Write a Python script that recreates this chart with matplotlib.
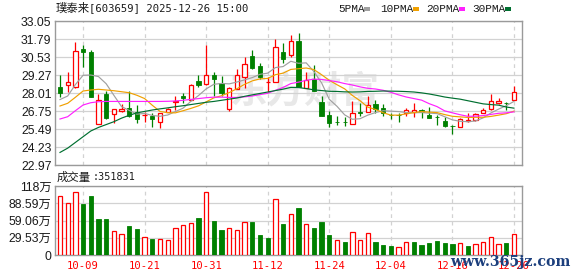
import matplotlib
matplotlib.use("Agg")
import matplotlib.pyplot as plt
import numpy as np
from matplotlib.patches import Rectangle

# ---------------- data ----------------
dates = ["09-26", "09-29", "09-30",
         "10-09", "10-10", "10-13", "10-14", "10-15", "10-16", "10-17", "10-20", "10-21",
         "10-22", "10-23", "10-24", "10-27", "10-28", "10-29", "10-30", "10-31",
         "11-03", "11-04", "11-05", "11-06", "11-07", "11-10", "11-11", "11-12",
         "11-13", "11-14", "11-17", "11-18", "11-19", "11-20", "11-21", "11-24",
         "11-25", "11-26", "11-27", "11-28", "12-01", "12-02", "12-03", "12-04",
         "12-05", "12-08", "12-09", "12-10", "12-11", "12-12", "12-15", "12-16",
         "12-17", "12-18", "12-19", "12-22", "12-23", "12-24", "12-25", "12-26"]

opens = [28.43, 28.55, 28.45, 31.09, 30.88, 25.82, 27.94, 26.52, 26.73, 26.94,
         26.66, 26.45, 26.40, 26.00, 26.70, 27.40, 27.78, 27.52, 28.85, 28.62,
         29.27, 28.69, 26.89, 28.31, 29.11, 30.60, 29.90, 28.78, 28.80, 30.86,
         30.65, 31.63, 28.38, 28.97, 27.36, 26.45, 25.98, 26.00, 25.86, 26.66,
         26.66, 27.22, 26.94, 26.50, 26.48, 26.59, 26.70, 26.82, 26.47, 26.33,
         26.05, 25.72, 25.61, 26.08, 26.12, 26.63, 26.87, 27.31, 27.33, 27.52]
highs = [29.27, 29.48, 31.58, 31.37, 31.02, 27.92, 28.17, 26.87, 27.24, 28.15,
         27.17, 26.70, 26.59, 26.63, 26.94, 27.80, 28.03, 28.62, 29.27, 31.37,
         29.46, 29.20, 28.45, 29.69, 30.51, 31.02, 30.13, 29.15, 31.79, 31.49,
         32.09, 32.19, 29.46, 29.97, 27.78, 26.75, 26.40, 26.35, 27.45, 27.29,
         27.80, 27.52, 27.22, 26.63, 26.61, 26.96, 27.29, 26.91, 27.03, 26.47,
         26.35, 25.77, 26.24, 26.59, 26.61, 26.96, 27.92, 27.66, 27.41, 28.50]
lows = [27.75, 28.10, 28.34, 29.85, 27.70, 25.82, 26.17, 25.89, 26.66, 26.35,
        25.89, 26.00, 25.65, 25.58, 26.70, 26.82, 27.29, 27.52, 28.45, 28.60,
        27.80, 27.80, 26.77, 28.31, 28.38, 29.67, 28.97, 28.06, 28.75, 30.09,
        30.51, 28.45, 28.38, 28.17, 26.40, 25.65, 25.77, 25.70, 25.82, 26.40,
        26.66, 26.63, 26.42, 26.17, 26.00, 26.40, 26.35, 26.24, 26.28, 25.77,
        25.65, 25.12, 25.61, 26.01, 26.07, 26.63, 26.82, 27.22, 26.80, 27.52]
closes = [28.03, 28.78, 30.93, 30.86, 27.75, 27.50, 26.28, 26.87, 26.89, 26.42,
          26.21, 26.50, 26.17, 26.59, 26.87, 27.42, 27.68, 28.60, 28.58, 29.25,
          29.01, 27.99, 28.38, 29.25, 30.04, 29.78, 29.13, 28.80, 31.21, 30.37,
          31.63, 28.45, 28.94, 28.17, 26.42, 25.89, 25.96, 25.98, 26.59, 26.63,
          27.15, 26.87, 26.59, 26.47, 26.45, 26.80, 26.82, 26.66, 26.28, 26.31,
          25.70, 25.70, 26.17, 26.10, 26.56, 26.80, 27.43, 27.48, 27.29, 28.10]

ma5 = [27.55, 27.80, 28.60, 29.25, 29.27, 29.16, 28.66, 27.85, 27.06, 26.79,
       26.53, 26.58, 26.44, 26.38, 26.47, 26.71, 26.95, 27.42, 27.83, 28.30,
       28.62, 28.68, 28.65, 28.78, 28.93, 29.09, 29.32, 29.40, 29.79, 29.86,
       30.23, 30.09, 30.12, 29.51, 28.72, 27.57, 27.08, 26.48, 26.17, 26.21,
       26.46, 26.64, 26.77, 26.74, 26.71, 26.64, 26.63, 26.64, 26.60, 26.57,
       26.35, 26.13, 26.03, 26.00, 26.05, 26.27, 26.61, 26.88, 27.12, 27.42]
ma10 = [27.10, 27.29, 27.71, 28.15, 28.22, 28.27, 28.22, 28.17, 28.10, 28.03,
        27.85, 27.62, 27.15, 26.72, 26.63, 26.62, 26.77, 26.93, 27.11, 27.39,
        27.67, 27.82, 28.04, 28.31, 28.62, 28.86, 29.00, 29.03, 29.29, 29.40,
        29.66, 29.71, 29.76, 29.65, 29.29, 28.90, 28.59, 28.30, 27.84, 27.47,
        27.02, 26.86, 26.63, 26.46, 26.46, 26.55, 26.64, 26.71, 26.67, 26.64,
        26.50, 26.38, 26.34, 26.30, 26.31, 26.31, 26.37, 26.46, 26.56, 26.74]
ma20 = [26.19, 26.35, 26.77, 27.17, 27.33, 27.40, 27.42, 27.42, 27.42, 27.42,
        27.42, 27.42, 27.42, 27.42, 27.43, 27.45, 27.50, 27.56, 27.62, 27.68,
        27.72, 27.72, 27.70, 27.70, 27.74, 27.80, 27.90, 27.99, 28.20, 28.40,
        28.67, 28.77, 28.90, 28.98, 28.96, 28.88, 28.80, 28.67, 28.57, 28.44,
        28.34, 28.29, 28.20, 28.06, 27.88, 27.73, 27.62, 27.51, 27.26, 27.06,
        26.76, 26.62, 26.49, 26.38, 26.39, 26.43, 26.51, 26.59, 26.62, 26.69]
ma30 = [23.85, 24.15, 24.55, 24.95, 25.35, 25.60, 25.80, 26.00, 26.25, 26.45,
        26.62, 26.72, 26.82, 26.90, 26.97, 27.05, 27.12, 27.20, 27.28, 27.36,
        27.42, 27.50, 27.58, 27.66, 27.78, 27.88, 27.98, 28.08, 28.18, 28.28,
        28.40, 28.39, 28.32, 28.23, 28.18, 28.13, 28.12, 28.09, 28.08, 28.09,
        28.12, 28.13, 28.15, 28.14, 28.13, 28.11, 28.08, 28.02, 27.94, 27.84,
        27.73, 27.65, 27.58, 27.47, 27.36, 27.25, 27.20, 27.16, 27.03, 26.95]

# volume in 万 (10k) units, and whether the bar is drawn as "up" (red)
volumes = [100.3, 89.5, 108.3, 87.2, 100.9, 61.0, 61.0, 40.5, 35.3, 49.0,
           43.9, 30.2, 26.8, 27.9, 25.1, 45.6, 50.7, 54.2, 62.7, 108.3,
           57.6, 42.2, 45.6, 43.3, 55.9, 55.9, 33.6, 28.5, 96.3, 53.0,
           69.5, 80.4, 52.4, 45.6, 55.9, 33.6, 26.2, 21.7, 38.8, 25.1,
           37.1, 22.2, 16.5, 14.8, 14.3, 21.7, 21.7, 16.5, 20.5, 23.4,
           20.5, 18.2, 20.0, 14.8, 18.2, 21.7, 31.4, 18.2, 20.5, 35.18]
vol_up = [1, 1, 1, 0, 0, 0, 0, 1, 1, 0,
          0, 1, 0, 1, 1, 1, 1, 1, 0, 1,
          0, 0, 1, 1, 1, 0, 0, 0, 1, 0,
          1, 0, 1, 0, 0, 0, 1, 0, 1, 1,
          1, 0, 0, 0, 1, 1, 0, 0, 0, 0,
          0, 0, 1, 0, 1, 1, 1, 1, 0, 1]

price_ticks = [22.97, 24.23, 25.49, 26.75, 28.01, 29.27, 30.53, 31.79, 33.05]
vol_ticks = [0, 29.53, 59.06, 88.59, 118.12]
vol_tick_labels = ["0", "29.53万", "59.06万", "88.59万", "118万"]
x_tick_labels = ["10-09", "10-21", "10-31", "11-12", "11-24", "12-04", "12-16", "12-26"]

title_name = "璞泰来"
title_rest = "[603659] 2025-12-26 15:00"
vol_name = "成交量"
vol_value = ":351831"
legend_names = ["5PMA", "10PMA", "20PMA", "30PMA"]

# ---------------- drawing ----------------
W, H = 578, 276
RED = "#ff0000"
GREEN = "#008000"
MA_COLORS = ["#a0a0a0", "#f0a000", "#ff20ff", "#006f30"]
GRID = "#d2d2d2"
FRAME = "#9a9a9a"
TXT = "#1a1a1a"

fig = plt.figure(figsize=(W / 100, H / 100), dpi=100)
fig.patch.set_facecolor("white")

def fx(px):
    return px / W

def fy(py):
    return 1 - py / H

ax1 = fig.add_axes([fx(55), fy(165), (522 - 55) / W, (165 - 21) / H])
ax2 = fig.add_axes([fx(55), fy(255), (522 - 55) / W, (255 - 186) / H])

n = len(dates)
x = np.arange(n)
o = np.array(opens)
c = np.array(closes)
hi = np.array(highs)
lo = np.array(lows)
up = c >= o
tick_idx = [dates.index(t) for t in x_tick_labels]

for ax in (ax1, ax2):
    ax.set_xlim(-0.65, n + 0.05)
    for s in ax.spines.values():
        s.set_color(FRAME)
        s.set_linewidth(1.0)
    ax.tick_params(length=0)
    ax.set_axisbelow(True)
    for t in tick_idx:
        ax.axvline(t, color=GRID, lw=0.9, ls=(0, (3, 3)), zorder=0.5)

# price panel
ax1.set_ylim(price_ticks[0], price_ticks[-1])
ax1.set_yticks(price_ticks)
ax1.set_yticklabels([f"{v:.2f}" for v in price_ticks])
ax1.grid(axis="y", color=GRID, lw=0.9)
ax1.set_xticks([])
ax1.tick_params(axis="y", pad=2.5, labelsize=8.8, labelcolor=TXT)
for lab in ax1.get_yticklabels():
    lab.set_fontfamily(["Liberation Sans", "DejaVu Sans"])

ax1.text(fx(305), fy(92), "东方财富", transform=fig.transFigure, ha="center", va="center",
         fontsize=27, color="#e8e8e8", fontweight="bold",
         family=["Noto Sans CJK SC", "DejaVu Sans"], zorder=0.3)

colors = np.where(up, RED, GREEN)
ax1.vlines(x, lo, hi, colors=colors, lw=0.9, zorder=3)
bw = 0.56
body_bot = np.minimum(o, c)
body_h = np.maximum(np.abs(c - o), 0.03)
ax1.bar(x[up], body_h[up], bottom=body_bot[up], width=bw, facecolor="white",
        edgecolor=RED, linewidth=0.9, zorder=4)
ax1.bar(x[~up], body_h[~up], bottom=body_bot[~up], width=bw, facecolor=GREEN,
        edgecolor=GREEN, linewidth=0.6, zorder=4)

for ma, col in zip([ma5, ma10, ma20, ma30], MA_COLORS):
    ax1.plot(x, ma, color=col, lw=0.85, zorder=5)

# volume panel
vu = np.array(vol_up, dtype=bool)
v = np.array(volumes)
ax2.set_ylim(0, vol_ticks[-1])
ax2.set_yticks(vol_ticks)
ax2.set_yticklabels(vol_tick_labels)
ax2.grid(axis="y", color=GRID, lw=0.9)
ax2.bar(x[vu], v[vu], width=bw, facecolor="white", edgecolor=RED, linewidth=0.9, zorder=3)
ax2.bar(x[~vu], v[~vu], width=bw, facecolor=GREEN, edgecolor=GREEN, linewidth=0.6, zorder=3)
ax2.set_xticks(tick_idx)
ax2.set_xticklabels(x_tick_labels)
ax2.tick_params(axis="y", pad=2.5, labelsize=8.8, labelcolor=TXT)
ax2.tick_params(axis="x", pad=4, labelsize=7.6, labelcolor=RED)
for lab in ax2.get_yticklabels():
    lab.set_fontfamily(["Liberation Sans", "Noto Sans CJK SC"])
for lab in ax2.get_xticklabels():
    lab.set_fontfamily(["DejaVu Sans Mono"])

# header texts
fig.text(fx(56), fy(8.5), title_name, family=["Noto Sans CJK SC"], fontsize=8.2,
         color=TXT, ha="left", va="center")
fig.text(fx(89), fy(8.5), title_rest, family=["DejaVu Sans Mono"], fontsize=7.6,
         color=TXT, ha="left", va="center")
fig.text(fx(57), fy(177.5), vol_name, family=["Noto Sans CJK SC"], fontsize=8.2,
         color=TXT, ha="left", va="center")
fig.text(fx(93), fy(177.5), vol_value, family=["DejaVu Sans Mono"], fontsize=7.3,
         color=TXT, ha="left", va="center")

leg_text_x = [338, 380, 426, 472]
leg_mark_x = [367, 416, 462, 508]
for name, tx, mx, col in zip(legend_names, leg_text_x, leg_mark_x, MA_COLORS):
    fig.text(fx(tx), fy(9), name, family=["Liberation Mono"], fontsize=8, color=TXT,
             ha="left", va="center")
    fig.add_artist(Rectangle((fx(mx - 3), fy(10.5)), 6 / W, 3 / H, transform=fig.transFigure,
                             facecolor=col, edgecolor="none"))

# site watermark overlapping the last tick labels, as in the reference
fig.text(fx(570), fy(262), "www.365jz.com", family=["DejaVu Serif"], fontweight="bold",
         fontsize=10.2, color="#1c3f7d", ha="right", va="center")

fig.savefig("out.png", dpi=100, facecolor="white")
